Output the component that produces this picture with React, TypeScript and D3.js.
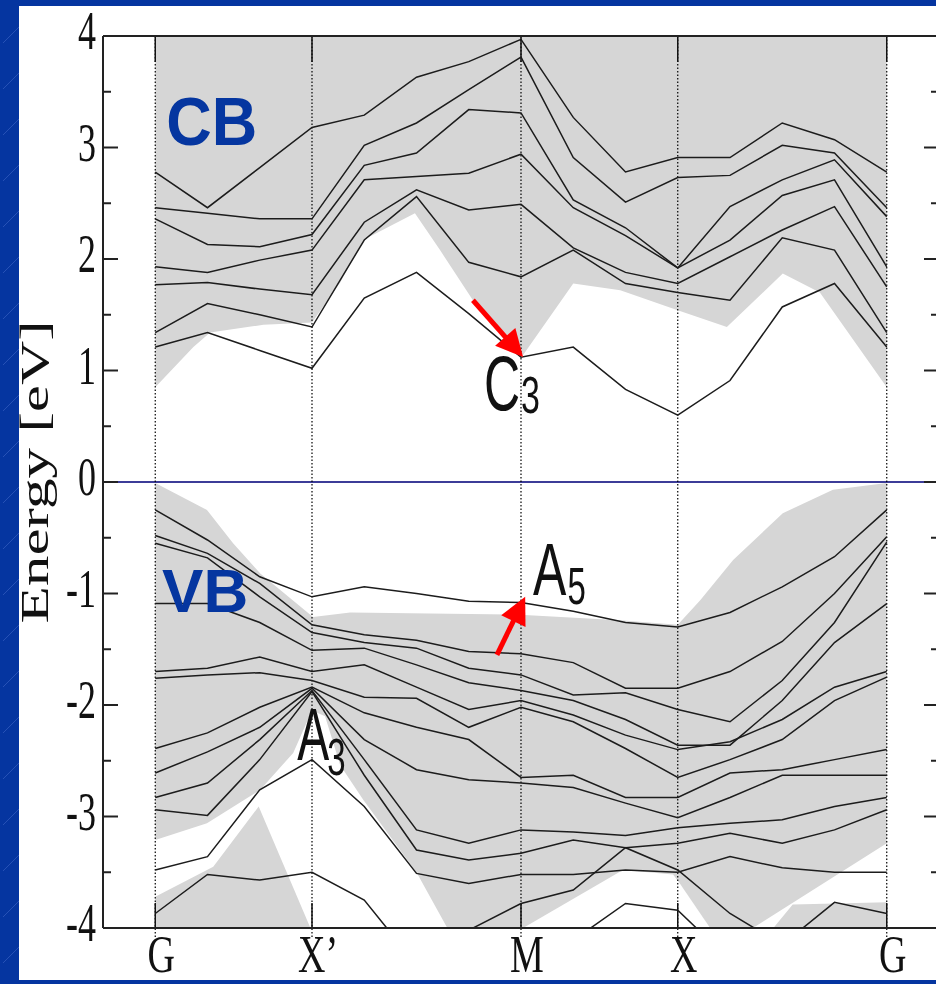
import React from 'react';
import * as d3 from 'd3';

// k-path grid (15 points) and symmetry labels
const kGrid = [0, 1, 2, 3, 4, 5, 6, 7, 8, 9, 10, 11, 12, 13, 14];
const symLabels = ['G', 'X’', 'M', 'X', 'G'];
const symK = [0, 3, 7, 10, 14];
const yTicks = [4, 3, 2, 1, 0, -1, -2, -3, -4];
const yMinor = [3.5, 2.5, 1.5, 0.5, -0.5, -1.5, -2.5, -3.5];

// conduction bands, eV at each k point
const cbBands = [
  [2.78, 2.46, 2.82, 3.18, 3.29, 3.63, 3.77, 3.97, 3.27, 2.78, 2.91, 2.91, 3.22, 3.07, 2.78],
  [2.46, 2.41, 2.36, 2.36, 3.02, 3.22, 3.52, 3.81, 2.91, 2.51, 2.73, 2.75, 3.02, 2.95, 2.46],
  [2.36, 2.13, 2.11, 2.22, 2.84, 2.95, 3.34, 3.31, 2.53, 2.28, 1.92, 2.47, 2.71, 2.89, 2.38],
  [1.93, 1.88, 1.99, 2.08, 2.71, 2.74, 2.77, 2.94, 2.46, 2.21, 1.92, 2.17, 2.57, 2.71, 1.93],
  [1.77, 1.79, 1.73, 1.68, 2.33, 2.62, 2.44, 2.49, 2.10, 1.88, 1.78, 2.02, 2.26, 2.47, 1.75],
  [1.34, 1.60, 1.50, 1.39, 2.17, 2.56, 1.97, 1.84, 2.08, 1.78, 1.70, 1.63, 2.19, 2.08, 1.34],
  [1.21, 1.34, 1.18, 1.02, 1.65, 1.88, 1.51, 1.12, 1.21, 0.83, 0.60, 0.91, 1.57, 1.78, 1.21],
];

// valence bands (values under -4 fall outside the frame)
const vbBands = [
  [-0.25, -0.52, -0.85, -1.03, -0.94, -1.00, -1.07, -1.08, -1.16, -1.26, -1.30, -1.17, -0.94, -0.67, -0.25],
  [-0.48, -0.64, -0.91, -1.28, -1.37, -1.42, -1.52, -1.54, -1.62, -1.85, -1.85, -1.70, -1.43, -1.00, -0.49],
  [-0.55, -0.68, -1.03, -1.35, -1.44, -1.49, -1.67, -1.73, -1.91, -1.89, -2.04, -2.15, -1.78, -1.26, -0.54],
  [-1.09, -1.09, -1.26, -1.51, -1.49, -1.64, -1.80, -1.87, -1.96, -2.13, -2.36, -2.36, -1.96, -1.44, -1.09],
  [-1.70, -1.67, -1.57, -1.70, -1.64, -1.84, -2.04, -1.96, -2.09, -2.27, -2.40, -2.33, -2.13, -1.84, -1.70],
  [-1.76, -1.73, -1.71, -1.78, -1.93, -1.94, -2.20, -2.02, -2.15, -2.39, -2.65, -2.49, -2.31, -1.96, -1.75],
  [-2.39, -2.25, -2.02, -1.84, -2.07, -2.20, -2.31, -2.65, -2.63, -2.83, -2.83, -2.61, -2.58, -2.49, -2.40],
  [-2.61, -2.42, -2.20, -1.85, -2.31, -2.58, -2.67, -2.70, -2.74, -2.88, -3.01, -2.83, -2.63, -2.63, -2.63],
  [-2.83, -2.70, -2.31, -1.87, -2.49, -3.12, -3.24, -3.12, -3.14, -3.17, -3.10, -3.06, -3.03, -2.91, -2.83],
  [-2.94, -2.99, -2.49, -1.88, -2.63, -3.30, -3.39, -3.33, -3.21, -3.28, -3.24, -3.15, -3.24, -3.12, -2.94],
  [-3.48, -3.36, -2.76, -2.49, -2.91, -3.51, -3.60, -3.52, -3.52, -3.48, -3.50, -3.36, -3.46, -3.50, -3.50],
  [-3.87, -3.52, -3.57, -3.50, -3.75, -4.33, -4.02, -3.78, -3.66, -3.28, -3.48, -3.87, -4.15, -3.77, -3.87],
  [-4.6, -4.6, -4.6, -4.6, -4.6, -4.6, -4.6, -4.6, -4.11, -3.78, -3.84, -4.29, -4.6, -4.6, -4.6],
];

// shaded (projected bulk) regions, [k, E]
const cbShadeEdge = [
  [0, 0.85], [0.73, 1.21], [1.05, 1.34], [2.07, 1.41], [3.0, 1.43], [3.54, 1.79], [3.98, 2.17],
  [4.97, 2.41], [5.45, 2.08], [6.08, 1.63], [6.85, 1.23], [7.04, 1.14], [8.0, 1.78], [8.9, 1.72],
  [10.0, 1.54], [10.94, 1.39], [12.01, 1.87], [12.72, 1.70], [14, 0.85],
];
const vbShadeTop = [
  [0, -0.01], [0.99, -0.25], [1.49, -0.55], [2.01, -0.82], [3.02, -1.21], [3.73, -1.17],
  [6.98, -1.19], [8.9, -1.24], [10.0, -1.28], [10.43, -1.06], [11.06, -0.70], [12.01, -0.28],
  [12.97, -0.07], [14, -0.01],
];
const holeA = [
  [0, -3.21], [0.99, -3.06], [2.01, -2.76], [2.64, -2.43], [3.0, -2.05], [3.25, -2.1],
  [3.54, -2.54], [3.98, -2.85], [5.01, -3.51], [5.59, -4.0], [0, -4.0],
];
const holeB = [[7.04, -4], [8.95, -3.48], [9.91, -3.52], [10.04, -3.6], [10.62, -4]];
const holeC = [[11.44, -4], [14, -3.24], [14, -3.77], [12.2, -3.79], [11.83, -4]];
const island = [[0, -4], [0, -3.72], [1.11, -3.45], [1.98, -2.91], [2.97, -4]];

// red arrows: [tail, tip] in (k, E)
const arrows = [
  [[6.08, 1.63], [7.04, 1.12]],
  [[6.54, -1.55], [7.08, -1.03]],
];

const serif = '"Liberation Serif", "Times New Roman", serif';
const sans = '"Liberation Sans", Arial, sans-serif';

function SText(p: any) {
  const { x, y, size, sx = 1, sy = 1, rot = 0, family, anchor = 'start', fill = '#000', weight = 'normal', children } = p;
  return (
    <text
      transform={`translate(${x},${y}) rotate(${rot}) scale(${sx},${sy})`}
      fontSize={size}
      fontFamily={family}
      textAnchor={anchor}
      fill={fill}
      fontWeight={weight}
    >
      {children}
    </text>
  );
}

export default function App() {
  const x = d3.scaleLinear().domain([-1, 15]).range([103, 939]);
  const y = d3.scaleLinear().domain([-4, 4]).range([928, 36]);
  const band = d3.line<number>().x((_, i) => x(kGrid[i])).y((d) => y(d));
  const poly = (pts: number[][]) => d3.line<number[]>().x((d) => x(d[0])).y((d) => y(d[1]))(pts) + 'Z';

  const cbPoly = [[0, 4], ...cbShadeEdge, [14, 4]];
  const vbPoly = [...vbShadeTop, [14, -4], [0, -4]];
  const grey = '#d6d6d6';
  const x0 = x(-1), x1 = x(15), yTop = y(4), yBot = y(-4);

  const arrowEls = arrows.map(([s, t], i) => {
    const sx = x(s[0]), sy = y(s[1]), tx = x(t[0]), ty = y(t[1]);
    const len = Math.hypot(tx - sx, ty - sy);
    const ux = (tx - sx) / len, uy = (ty - sy) / len;
    const bx = tx - ux * 27, by = ty - uy * 27;
    const px = -uy, py = ux;
    return (
      <g key={i}>
        <line x1={sx} y1={sy} x2={bx + ux * 3} y2={by + uy * 3} stroke="#ff0000" strokeWidth={5} />
        <polygon
          points={`${tx},${ty} ${bx + px * 13.5},${by + py * 13.5} ${bx - px * 13.5},${by - py * 13.5}`}
          fill="#ff0000"
        />
      </g>
    );
  });

  return (
    <div style={{ position: 'fixed', left: 0, top: 0 }}>
      <svg width={936} height={984} style={{ display: 'block' }}>
        <defs>
          <pattern id="bgp" width="46" height="46" patternUnits="userSpaceOnUse">
            <rect width="46" height="46" fill="#0535a0" />
            <path d="M3 43 L27 19" stroke="#4f74d2" strokeWidth="0.8" opacity="0.55" />
          </pattern>
          <clipPath id="plot">
            <rect x={x0} y={yTop} width={x1 - x0} height={yBot - yTop} />
          </clipPath>
        </defs>
        <rect width={936} height={984} fill="url(#bgp)" />
        <rect x={19} y={6} width={917} height={974} fill="#fff" />

        {/* shaded regions */}
        <g clipPath="url(#plot)">
          <path d={poly(cbPoly)} fill={grey} />
          <path d={poly(vbPoly)} fill={grey} />
          {[holeA, holeB, holeC].map((h, i) => (
            <path key={i} d={poly(h)} fill="#fff" />
          ))}
          <path d={poly(island)} fill={grey} />
        </g>

        {/* Fermi level */}
        <line x1={x0} x2={936} y1={y(0)} y2={y(0)} stroke="#3c3c98" strokeWidth={2} />

        {/* symmetry lines */}
        {symK.map((k, i) => (
          <g key={i}>
            <line x1={x(k)} x2={x(k)} y1={yTop} y2={yBot + 9} stroke="#000" strokeWidth={1.2} strokeDasharray="1.5 2" />
            <line x1={x(k)} x2={x(k)} y1={yTop} y2={yTop + 26} stroke="#111" strokeWidth={1.5} />
            <line x1={x(k)} x2={x(k)} y1={yBot - 25} y2={yBot} stroke="#111" strokeWidth={1.5} />
          </g>
        ))}

        {/* bands */}
        <g clipPath="url(#plot)" fill="none" stroke="#1c1c1c" strokeWidth={1.5}>
          {cbBands.map((b, i) => (
            <path key={'c' + i} d={band(b) || ''} />
          ))}
          {vbBands.map((b, i) => (
            <path key={'v' + i} d={band(b) || ''} />
          ))}
        </g>

        {/* frame */}
        <g stroke="#222" strokeWidth={2}>
          <line x1={x0} x2={x0} y1={yTop} y2={yBot} />
          <line x1={x0} x2={x1} y1={yTop} y2={yTop} />
          <line x1={x0} x2={x1} y1={yBot} y2={yBot} />
          <line x1={x1} x2={x1} y1={yTop} y2={yBot} />
          {yTicks.map((t) => (
            <g key={t}>
              <line x1={x0} x2={x0 + 15} y1={y(t)} y2={y(t)} />
              <line x1={x1} x2={x1 - 15} y1={y(t)} y2={y(t)} />
            </g>
          ))}
          {yMinor.map((t) => (
            <g key={t}>
              <line x1={x0} x2={x0 + 8} y1={y(t)} y2={y(t)} />
              <line x1={x1} x2={x1 - 8} y1={y(t)} y2={y(t)} />
            </g>
          ))}
        </g>

        {/* tick labels */}
        {yTicks.map((t) => (
          <SText key={t} x={96} y={y(t) + 13} size={36} sy={1.5} family={serif} anchor="end" fill="#111">
            {t < 0 ? '-' + Math.abs(t) : String(t)}
          </SText>
        ))}
        {symK.map((k, i) => (
          <SText key={i} x={x(k) + 6} y={972} size={38} sy={1.38} family={serif} anchor="middle" fill="#111">
            {symLabels[i]}
          </SText>
        ))}
        <SText x={48} y={472} size={39} rot={-90} sx={1.57} family={serif} anchor="middle" fill="#111">
          Energy [eV]
        </SText>

        {/* annotations */}
        <SText x={x(0.21)} y={y(3.02)} size={63} sy={1.08} family={sans} weight="bold" fill="#0536a0">
          CB
        </SText>
        <SText x={x(0.13)} y={y(-1.17)} size={62} family={sans} weight="bold" fill="#0536a0">
          VB
        </SText>
        <SText x={x(6.29)} y={y(0.65)} size={50} sy={1.55} family={sans} fill="#111">C</SText>
        <SText x={x(7.0)} y={y(0.62)} size={34} sy={1.55} family={sans} fill="#111">3</SText>
        <SText x={x(7.23)} y={y(-1.01)} size={50} sy={1.5} family={sans} fill="#111">A</SText>
        <SText x={x(7.89)} y={y(-1.09)} size={33} sy={1.55} family={sans} fill="#111">5</SText>
        <SText x={x(2.72)} y={y(-2.49)} size={48} sy={1.55} family={sans} fill="#111">A</SText>
        <SText x={x(3.29)} y={y(-2.63)} size={33} sy={1.55} family={sans} fill="#111">3</SText>
        {arrowEls}
      </svg>
    </div>
  );
}
